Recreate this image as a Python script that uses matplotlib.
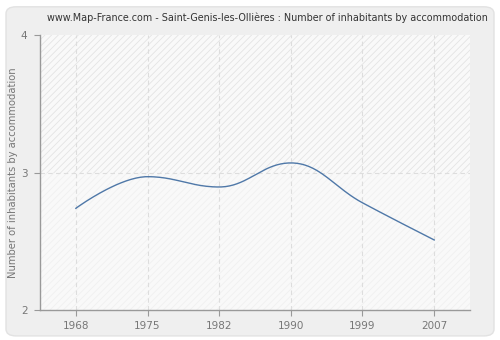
#!/usr/bin/env python3
"""Number of inhabitants by accommodation, Saint-Genis-les-Ollières (Map-France style)."""
import matplotlib
matplotlib.use("Agg")
import matplotlib.pyplot as plt
import numpy as np
from matplotlib.patches import FancyBboxPatch

YEARS = ["1968", "1975", "1982", "1990", "1999", "2007"]
VALUES = [2.74, 2.97, 2.895, 3.07, 2.78, 2.51]
Y_TICKS = [2, 3, 4]

TITLE = "www.Map-France.com - Saint-Genis-les-Ollières : Number of inhabitants by accommodation"
YLABEL = "Number of inhabitants by accommodation"

LINE_COLOR = "#4f78a8"
TEXT_GREY = "#777777"
AXIS_GREY = "#999999"


def spline_path(xs, ys, smoothing=1.5, steps=40):
    """Highcharts-like bezier spline through the points."""
    n = len(xs)
    left = [(xs[i], ys[i]) for i in range(n)]
    right = [(xs[i], ys[i]) for i in range(n)]
    denom = smoothing + 1
    for i in range(1, n - 1):
        px, py = xs[i], ys[i]
        lx, ly = xs[i - 1], ys[i - 1]
        nx, ny = xs[i + 1], ys[i + 1]
        lcx = (smoothing * px + lx) / denom
        lcy = (smoothing * py + ly) / denom
        rcx = (smoothing * px + nx) / denom
        rcy = (smoothing * py + ny) / denom
        corr = (rcy - lcy) * (rcx - px) / (rcx - lcx) + py - rcy
        lcy += corr
        rcy += corr
        if lcy > ly and lcy > py:
            lcy = max(ly, py)
            rcy = 2 * py - lcy
        elif lcy < ly and lcy < py:
            lcy = min(ly, py)
            rcy = 2 * py - lcy
        if rcy > ny and rcy > py:
            rcy = max(ny, py)
            lcy = 2 * py - rcy
        elif rcy < ny and rcy < py:
            rcy = min(ny, py)
            lcy = 2 * py - rcy
        left[i] = (lcx, lcy)
        right[i] = (rcx, rcy)
    t = np.linspace(0, 1, steps)[:, None]
    out = []
    for i in range(n - 1):
        p0 = np.array([xs[i], ys[i]])
        c1 = np.array(right[i])
        c2 = np.array(left[i + 1])
        p3 = np.array([xs[i + 1], ys[i + 1]])
        seg = ((1 - t) ** 3) * p0 + 3 * ((1 - t) ** 2) * t * c1 \
            + 3 * (1 - t) * t ** 2 * c2 + t ** 3 * p3
        out.append(seg if i == 0 else seg[1:])
    pts = np.vstack(out)
    return pts[:, 0], pts[:, 1]


plt.rcParams["hatch.linewidth"] = 0.6

fig = plt.figure(figsize=(5.0, 3.4), dpi=100)
fig.patch.set_facecolor("white")

# rounded grey panel behind everything
panel = FancyBboxPatch((0.012, 0.012), 0.976, 0.968,
                       boxstyle="round,pad=0,rounding_size=0.02",
                       transform=fig.transFigure, facecolor="#efefef",
                       edgecolor="#e2e2e2", linewidth=1.0, zorder=-10)
fig.patches.append(panel)

ax = fig.add_axes([0.08, 0.088, 0.86, 0.809])
ax.set_zorder(1)
ax.set_facecolor("#f9f9f9")

x = np.arange(len(YEARS))
ax.set_xlim(-0.5, len(YEARS) - 0.5)
ax.set_ylim(min(Y_TICKS), max(Y_TICKS))

# hatched background, stronger in the upper band
ax.axhspan(3, 4, facecolor="none", hatch="/////", edgecolor="#e4e4e4",
           linewidth=0, zorder=0)
ax.axhspan(2, 3, facecolor="none", hatch="/////", edgecolor="#f0f0f0",
           linewidth=0, zorder=0)

for xi in x:
    ax.axvline(xi, color="#dddddd", linestyle=(0, (4, 3)), linewidth=0.8, zorder=1)
ax.axhline(3, color="#dddddd", linestyle=(0, (4, 3)), linewidth=0.8, zorder=1)

sx, sy = spline_path(list(x), VALUES)
ax.plot(sx, sy, color=LINE_COLOR, linewidth=1.0, zorder=3)

ax.set_xticks(x)
ax.set_xticklabels(YEARS)
ax.set_yticks(Y_TICKS)
ax.tick_params(axis="both", colors=AXIS_GREY, labelcolor=TEXT_GREY,
               labelsize=7.5, length=4, width=0.8, direction="out")
ax.tick_params(axis="y", pad=5)
ax.tick_params(axis="x", pad=4)

for side in ("top", "right"):
    ax.spines[side].set_visible(False)
for side in ("left", "bottom"):
    ax.spines[side].set_color(AXIS_GREY)
    ax.spines[side].set_linewidth(1.0)

ax.set_ylabel(YLABEL, color=TEXT_GREY, fontsize=7.2)
ax.yaxis.set_label_coords(-0.052, 0.5)

fig.text(0.535, 0.947, TITLE, ha="center", va="center", fontsize=6.9, color="#333333")

fig.savefig("out.png", dpi=100)
